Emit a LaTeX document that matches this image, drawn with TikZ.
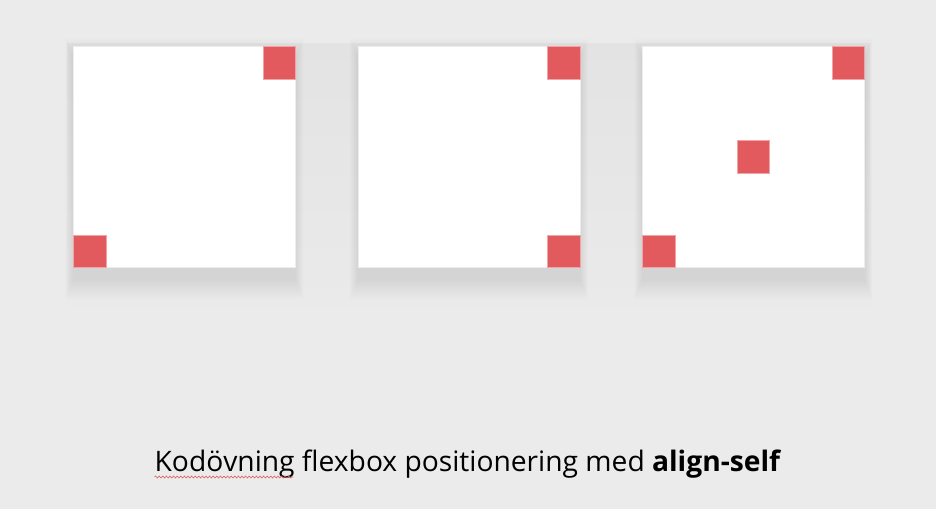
\documentclass[tikz,border=0pt]{standalone}
\usepackage{fontspec}
\setmainfont{Open Sans}
\usetikzlibrary{positioning, decorations.pathmorphing}
\definecolor{pagegray}{HTML}{EBEBEB}
\definecolor{paneltop}{HTML}{E3E3E3}
\definecolor{panelbottom}{HTML}{EAEAEA}
\definecolor{itemred}{HTML}{E25A5E}
\tikzset{
  flexbox/.style={rectangle, fill=white, draw=black!7, line width=0.6pt,
                  minimum width=222pt, minimum height=221pt, inner sep=0pt},
  item/.style={rectangle, fill=itemred, draw=itemred!55!white, line width=0.6pt,
               minimum size=32.5pt, inner sep=0pt},
  caption/.style={font=\fontsize{28.2}{34}\selectfont, inner sep=0pt},
  squiggle/.style={itemred, line width=0.6pt, decorate,
                   decoration={snake, amplitude=1pt, segment length=3.6pt}},
}

\begin{document}
\begin{tikzpicture}[x=1pt, y=-1pt]
  \useasboundingbox[fill=pagegray] (0,0) rectangle (936,509);
  \shade[top color=paneltop, bottom color=panelbottom] (67,43) rectangle (870,305);

  % the three flex containers
  \node[flexbox, anchor=north west] (box1) at (73,46) {};
  \node[flexbox, right=62pt of box1] (box2) {};
  \node[flexbox, right=62pt of box2] (box3) {};

  % soft shadows under the containers
  \foreach \b in {box1, box2, box3} {
    \foreach \s in {0,1,...,20}
      \fill[black, opacity=0.004]
        ([xshift=-0.4*\s pt, yshift=-12pt+\s pt]\b.north west) rectangle
        ([xshift=0.4*\s pt, yshift=-12pt-\s pt]\b.south east);
  }
  \node[flexbox, anchor=north west] at (box1.north west) {};
  \node[flexbox, anchor=north west] at (box2.north west) {};
  \node[flexbox, anchor=north west] at (box3.north west) {};

  % items
  \node[item, anchor=north east] (a1) at (box1.north east) {};
  \node[item, anchor=south west] (a2) at (box1.south west) {};
  \node[item, anchor=north east] (b1) at (box2.north east) {};
  \node[item, anchor=south east] (b2) at (box2.south east) {};
  \node[item, anchor=north east] (c1) at (box3.north east) {};
  \node[item] (c2) at (box3.center) {};
  \node[item, anchor=south west] (c3) at (box3.south west) {};

  \node[caption, anchor=base] (title) at (468,471)
    {Kodövning flexbox positionering med \textbf{align-self}};
  \coordinate (wavestart) at ([yshift=-6pt]title.base west);
  \coordinate (waveend) at ([xshift=139pt]wavestart);
  \draw[squiggle] (wavestart) -- (waveend);
\end{tikzpicture}
\end{document}
